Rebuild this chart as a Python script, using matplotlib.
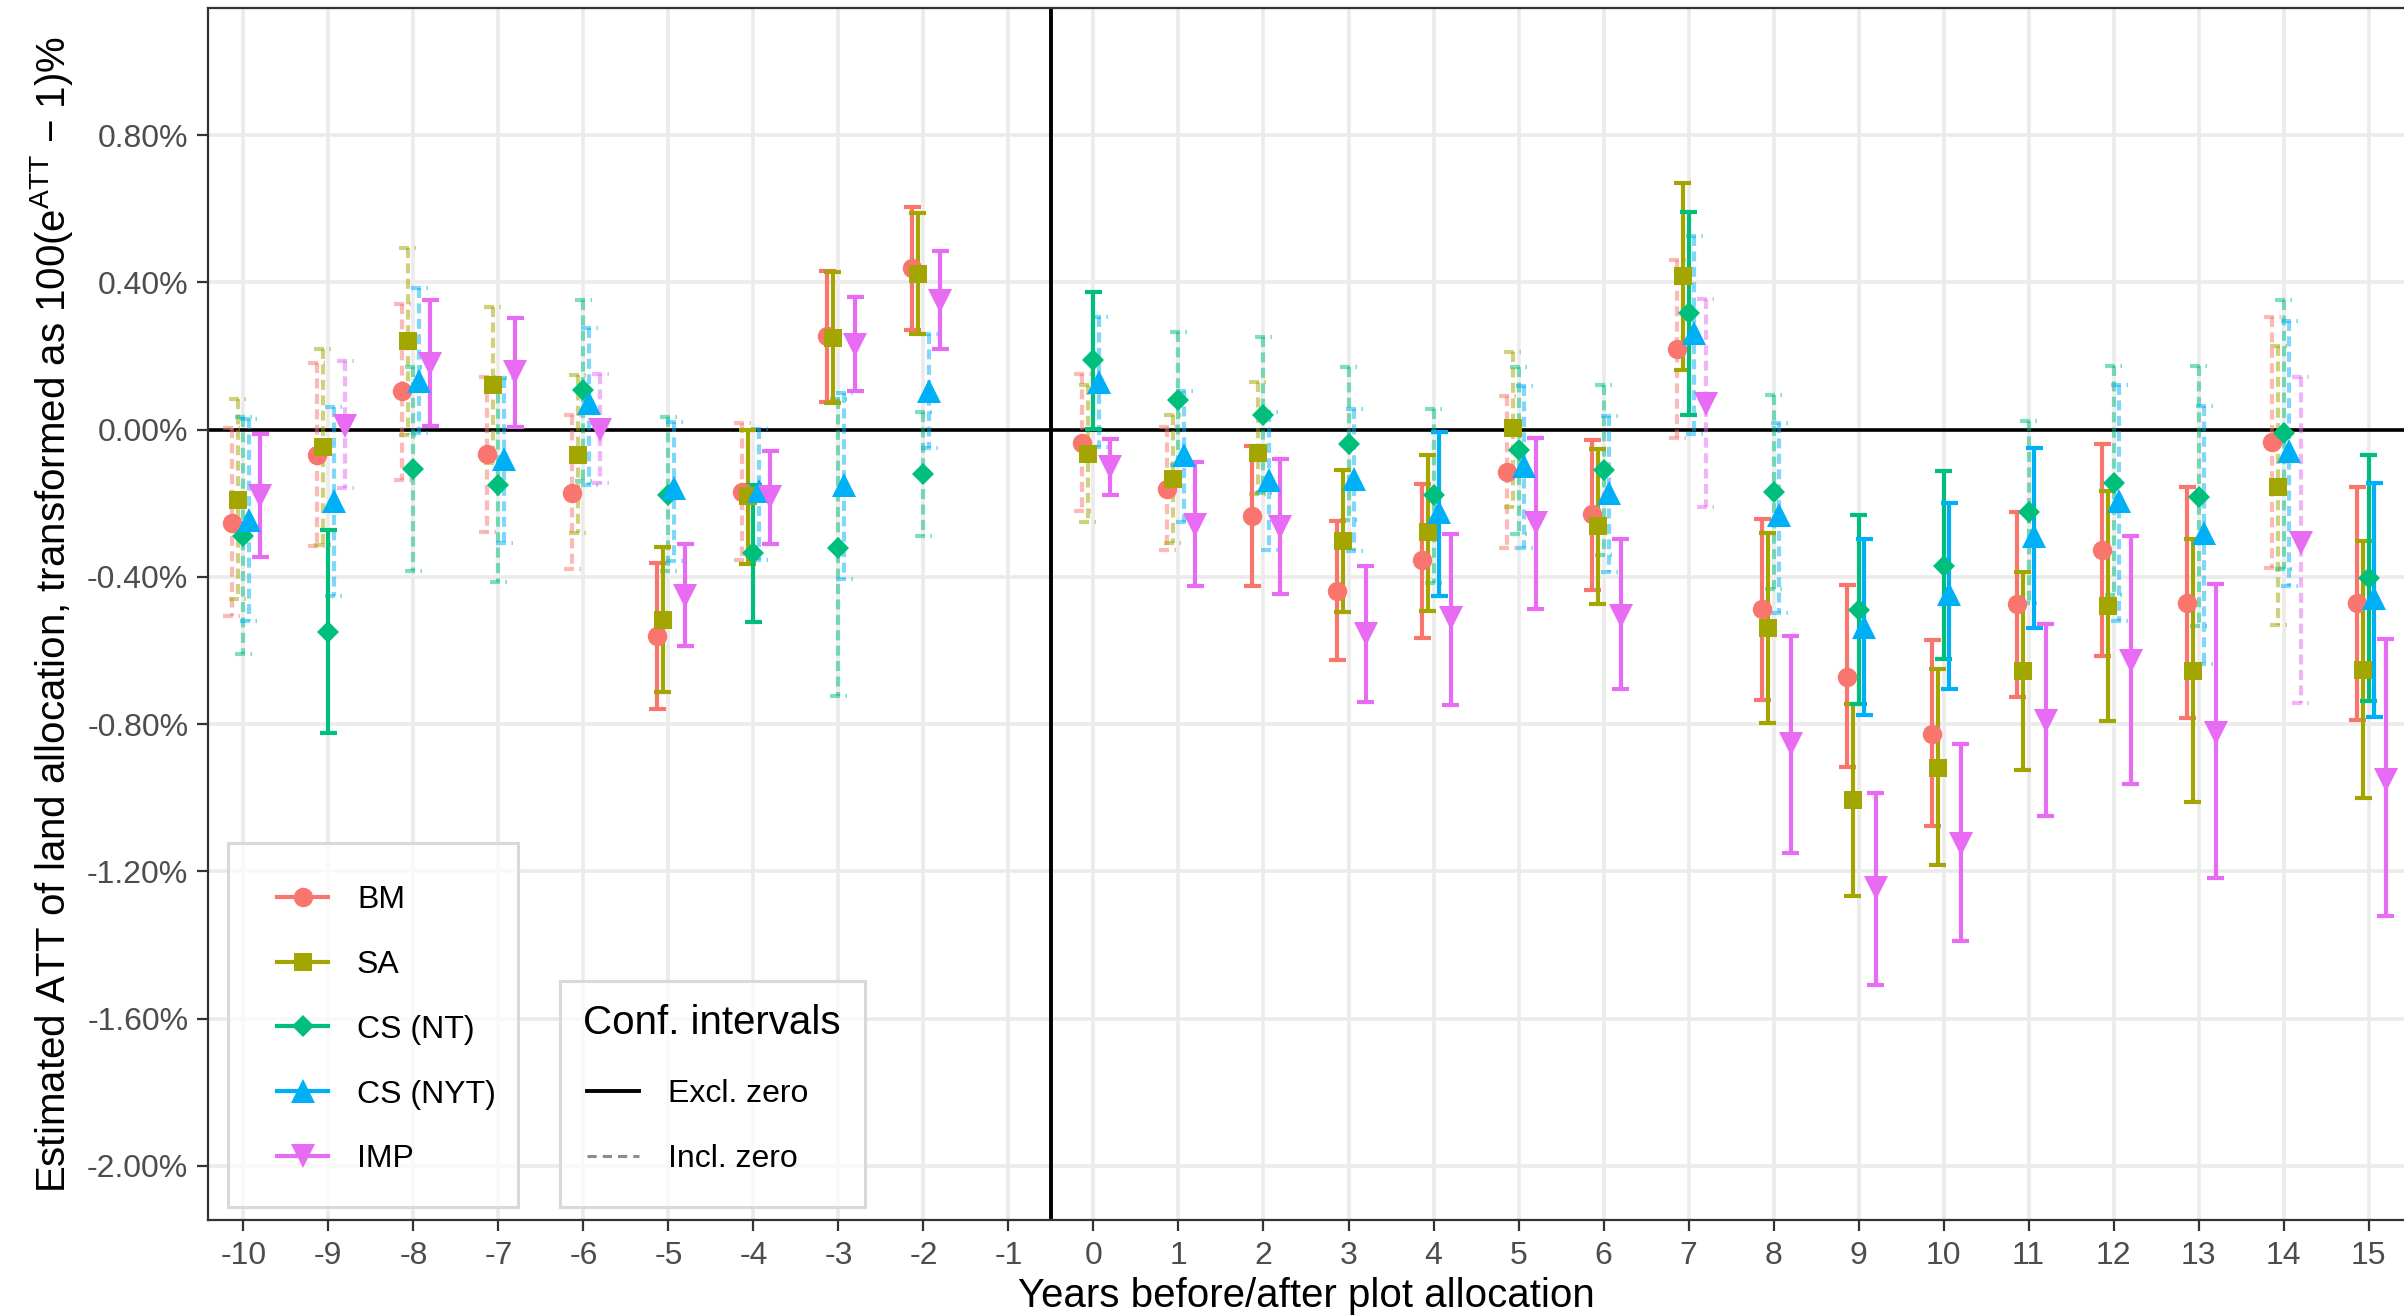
import matplotlib
matplotlib.use("Agg")
import matplotlib.pyplot as plt
import numpy as np
from matplotlib.collections import LineCollection
from matplotlib.lines import Line2D
from matplotlib.patches import Rectangle

# Event-study estimates (in %)
years = [-10, -9, -8, -7, -6, -5, -4, -3, -2,
         0, 1, 2, 3, 4, 5, 6, 7, 8, 9, 10, 11, 12, 13, 14, 15]

bm_est = [-0.253, -0.068, 0.105, -0.067, -0.172, -0.560, -0.169, 0.254, 0.438,
          -0.036, -0.161, -0.236, -0.438, -0.355, -0.115, -0.230, 0.220, -0.488,
          -0.671, -0.826, -0.475, -0.327, -0.472, -0.034, -0.470]
bm_lo = [-0.507, -0.317, -0.136, -0.277, -0.380, -0.760, -0.354, 0.074, 0.271,
         -0.222, -0.328, -0.425, -0.625, -0.565, -0.322, -0.435, -0.024, -0.735,
         -0.916, -1.078, -0.727, -0.616, -0.784, -0.375, -0.788]
bm_hi = [0.003, 0.180, 0.342, 0.144, 0.040, -0.363, 0.018, 0.431, 0.605,
         0.152, 0.008, -0.044, -0.248, -0.147, 0.091, -0.027, 0.460, -0.243,
         -0.422, -0.572, -0.225, -0.038, -0.156, 0.305, -0.156]

sa_est = [-0.190, -0.047, 0.240, 0.122, -0.068, -0.518, -0.181, 0.249, 0.423,
          -0.067, -0.133, -0.064, -0.303, -0.279, 0.003, -0.263, 0.416, -0.540,
          -1.007, -0.919, -0.655, -0.480, -0.655, -0.156, -0.652]
sa_lo = [-0.460, -0.313, -0.014, -0.090, -0.282, -0.714, -0.364, 0.073, 0.260,
         -0.250, -0.307, -0.175, -0.495, -0.492, -0.211, -0.473, 0.161, -0.798,
         -1.268, -1.184, -0.925, -0.792, -1.011, -0.532, -1.000]
sa_hi = [0.082, 0.218, 0.494, 0.334, 0.147, -0.320, -0.002, 0.427, 0.587,
         0.121, 0.039, 0.130, -0.110, -0.068, 0.212, -0.052, 0.671, -0.280,
         -0.745, -0.650, -0.386, -0.167, -0.297, 0.227, -0.303]

nt_est = [-0.290, -0.550, -0.107, -0.151, 0.108, -0.178, -0.336, -0.323, -0.122,
          0.188, 0.081, 0.039, -0.038, -0.179, -0.056, -0.111, 0.317, -0.170,
          -0.491, -0.370, -0.225, -0.144, -0.183, -0.008, -0.402]
nt_lo = [-0.610, -0.825, -0.385, -0.414, -0.140, -0.385, -0.524, -0.725, -0.290,
         0.002, -0.097, -0.173, -0.246, -0.416, -0.285, -0.341, 0.040, -0.432,
         -0.745, -0.624, -0.470, -0.450, -0.534, -0.380, -0.737]
nt_hi = [0.034, -0.273, 0.170, 0.139, 0.353, 0.034, -0.151, 0.082, 0.048,
         0.375, 0.265, 0.251, 0.170, 0.057, 0.170, 0.121, 0.591, 0.094,
         -0.233, -0.112, 0.023, 0.172, 0.172, 0.353, -0.070]

nyt_est = [-0.245, -0.194, 0.133, -0.080, 0.071, -0.160, -0.168, -0.151, 0.106,
           0.130, -0.070, -0.137, -0.133, -0.224, -0.100, -0.171, 0.261, -0.233,
           -0.535, -0.447, -0.288, -0.194, -0.281, -0.058, -0.457]
nyt_lo = [-0.520, -0.453, -0.010, -0.309, -0.150, -0.356, -0.353, -0.407, -0.051,
          -0.046, -0.252, -0.328, -0.331, -0.452, -0.322, -0.388, -0.012, -0.499,
          -0.774, -0.705, -0.538, -0.519, -0.636, -0.425, -0.781]
nyt_hi = [0.030, 0.060, 0.384, 0.139, 0.277, 0.020, 0.002, 0.099, 0.260,
          0.305, 0.105, 0.048, 0.057, -0.007, 0.118, 0.037, 0.527, 0.018,
          -0.296, -0.199, -0.050, 0.122, 0.063, 0.294, -0.144]

imp_est = [-0.180, 0.009, 0.178, 0.156, -0.002, -0.453, -0.184, 0.229, 0.348,
           -0.103, -0.258, -0.264, -0.555, -0.513, -0.255, -0.506, 0.069, -0.853,
           -1.246, -1.125, -0.792, -0.628, -0.823, -0.308, -0.951]
imp_lo = [-0.347, -0.160, 0.011, 0.006, -0.145, -0.589, -0.310, 0.105, 0.220,
          -0.177, -0.424, -0.446, -0.739, -0.747, -0.487, -0.705, -0.211, -1.150,
          -1.509, -1.390, -1.050, -0.964, -1.219, -0.744, -1.322]
imp_hi = [-0.011, 0.187, 0.353, 0.302, 0.152, -0.311, -0.057, 0.361, 0.485,
          -0.025, -0.088, -0.080, -0.370, -0.285, -0.022, -0.296, 0.354, -0.562,
          -0.988, -0.855, -0.527, -0.288, -0.420, 0.143, -0.569]

y_ticks = [-2.0, -1.6, -1.2, -0.8, -0.4, 0.0, 0.4, 0.8]
x_ticks = list(range(-10, 16))

# name, colour, marker, marker size, dodge offset, data
series = [
    ("BM", "#F8766D", "o", 14, -0.133, bm_est, bm_lo, bm_hi),
    ("SA", "#A3A500", "s", 12.5, -0.067, sa_est, sa_lo, sa_hi),
    ("CS (NT)", "#00BF7D", "D", 11.5, 0.0, nt_est, nt_lo, nt_hi),
    ("CS (NYT)", "#00B0F6", "^", 17, 0.067, nyt_est, nyt_lo, nyt_hi),
    ("IMP", "#E76BF3", "v", 17, 0.2, imp_est, imp_lo, imp_hi),
]

W, H = 2404, 1316
plt.rcParams["font.family"] = ["Liberation Sans", "DejaVu Sans"]
plt.rcParams["mathtext.fontset"] = "custom"
plt.rcParams["mathtext.rm"] = "Liberation Sans"
plt.rcParams["mathtext.it"] = "Liberation Sans:italic"


def fx(px):
    return px / W


def fy(py):
    return 1 - py / H


fig = plt.figure(figsize=(W / 100, H / 100), dpi=100)
ax = fig.add_axes([fx(208), fy(1220), (W - 208) / W, (1220 - 8.4) / H])

cap = 0.1
lw = 3.0
for name, col, mk, ms, off, est, lo, hi in series:
    x = np.array(years) + off
    lo = np.array(lo)
    hi = np.array(hi)
    excl = (lo > 0) | (hi < 0)
    for solid in (False, True):
        segs = []
        for xi, l, h in zip(x[excl == solid], lo[excl == solid], hi[excl == solid]):
            segs.append([(xi - cap, h), (xi + cap, h)])
            segs.append([(xi, h), (xi, l)])
            segs.append([(xi - cap, l), (xi + cap, l)])
        if solid:
            lc = LineCollection(segs, colors=col, linewidths=lw, zorder=4)
        else:
            lc = LineCollection(segs, colors=col, linewidths=lw, alpha=0.5,
                                linestyles=[(0, (2.4, 1.3))], zorder=3)
        ax.add_collection(lc)

for name, col, mk, ms, off, est, lo, hi in series:
    ax.plot(np.array(years) + off, est, ls="none", marker=mk, ms=ms,
            color=col, mew=0, zorder=5)

ax.axhline(0, color="black", lw=2.6, zorder=2)
ax.axvline(-0.5, color="black", lw=2.8, zorder=2)

ax.set_xlim(-10.415, 15.415)
ax.set_ylim(-2.147, 1.144)
ax.set_xticks(x_ticks)
ax.set_xticklabels([str(v) for v in x_ticks])
ax.set_yticks(y_ticks)
ax.set_yticklabels(["%.2f%%" % v for v in y_ticks])
ax.grid(True, color="#EBEBEB", lw=2.6)
ax.set_axisbelow(True)
for side in ("left", "bottom", "top"):
    ax.spines[side].set_color("#333333")
    ax.spines[side].set_linewidth(1.6)
ax.spines["right"].set_visible(False)
ax.tick_params(axis="both", colors="#333333", width=1.6, length=8.2,
               labelsize=23, labelcolor="#4D4D4D")
ax.tick_params(axis="x", pad=7)
ax.tick_params(axis="y", pad=6)

ax.set_xlabel("Years before/after plot allocation", fontsize=29)
ax.xaxis.set_label_coords(0.5, -0.047)
ax.set_ylabel("Estimated ATT of land allocation, transformed as "
              "100(e$^{\\mathrm{ATT}}$ \u2212 1)%", fontsize=29)
ax.yaxis.set_label_coords(-0.0605, 0.5)

# legend for the estimators
fig.add_artist(Rectangle((fx(228), fy(1207)), (518 - 228) / W, (1207 - 843) / H,
                         transform=fig.transFigure, facecolor=(1, 1, 1, 0.75),
                         edgecolor="#D9D9D9", lw=2.2))
rows = [896.7, 961.5, 1026.3, 1091.0, 1155.7]
for (name, col, mk, ms, off, est, lo, hi), ry in zip(series, rows):
    fig.add_artist(Line2D([fx(277), fx(328)], [fy(ry), fy(ry)], color=col,
                          lw=lw, transform=fig.transFigure))
    fig.add_artist(Line2D([fx(302.5)], [fy(ry)], marker=mk, ms=ms, mew=0,
                          color=col, transform=fig.transFigure))
    fig.text(fx(357), fy(ry + 11.5), name, fontsize=23, va="baseline")

# legend for the confidence-interval line types
fig.add_artist(Rectangle((fx(560), fy(1207)), (865 - 560) / W, (1207 - 981) / H,
                         transform=fig.transFigure, facecolor=(1, 1, 1, 0.75),
                         edgecolor="#D9D9D9", lw=2.2))
fig.text(fx(583), fy(1034), "Conf. intervals", fontsize=29, va="baseline")
fig.add_artist(Line2D([fx(587), fx(639)], [fy(1091), fy(1091)], color="black",
                      lw=2.8, transform=fig.transFigure))
fig.text(fx(668), fy(1102.5), "Excl. zero", fontsize=23, va="baseline")
fig.add_artist(Line2D([fx(587), fx(639)], [fy(1155.7), fy(1155.7)], color="#8C8C8C",
                      lw=2.2, ls=(0, (3, 2)), transform=fig.transFigure))
fig.text(fx(668), fy(1167.2), "Incl. zero", fontsize=23, va="baseline")

fig.savefig("out.png", dpi=100)
